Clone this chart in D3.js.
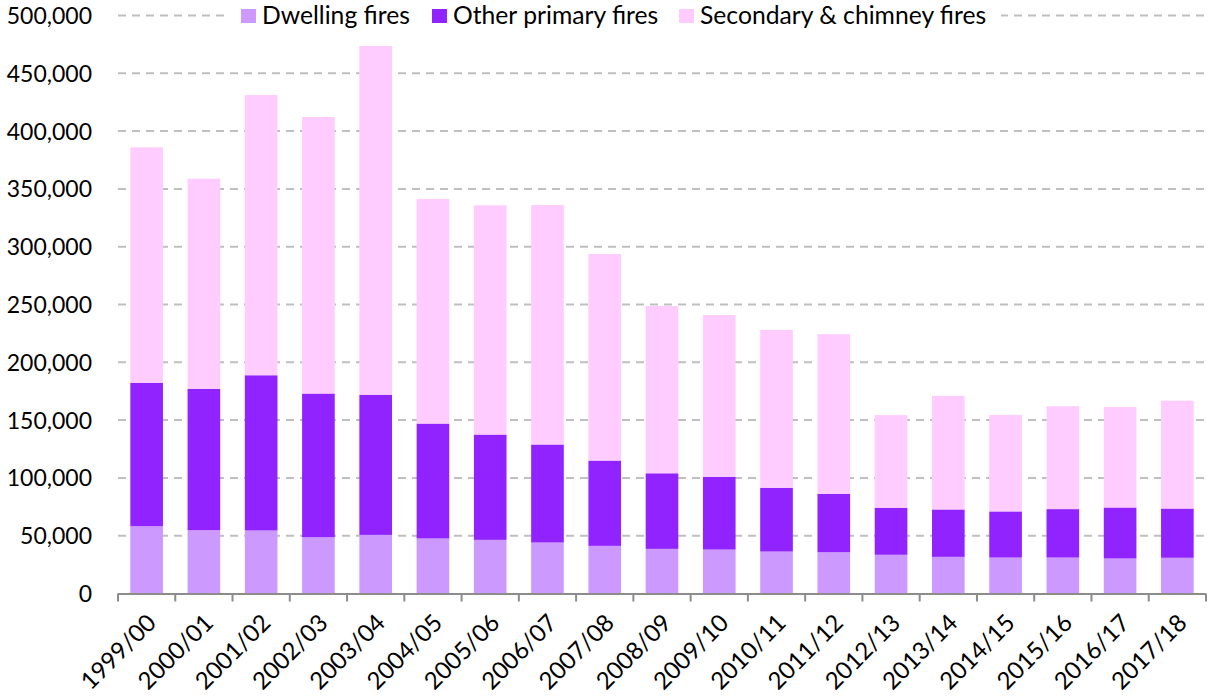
<!DOCTYPE html>
<html>
<head>
<meta charset="utf-8">
<script src="https://cdn.jsdelivr.net/npm/d3@7"></script>
<style>
  body { margin: 0; background: #fff; }
  text { font-family: Lato, "Open Sans", sans-serif; fill: #000; }
</style>
</head>
<body>
<div id="chart"></div>
<script>
var years = ["1999/00","2000/01","2001/02","2002/03","2003/04","2004/05","2005/06","2006/07","2007/08","2008/09",
             "2009/10","2010/11","2011/12","2012/13","2013/14","2014/15","2015/16","2016/17","2017/18"];
var dwelling  = [58200, 54800, 54500, 48700, 50700, 47600, 46400, 44100, 41200, 38600,
                 38000, 36300, 35700, 33500, 31700, 31100, 31100, 30300, 30900];
var otherPrimary = [124100, 122200, 134300, 124300, 121300, 99400, 91100, 84800, 73800, 65400,
                    63000, 55200, 50400, 40700, 41000, 39900, 41900, 44100, 42600];
var secondary = [203700, 181800, 242400, 239200, 301600, 194300, 198300, 207200, 178700, 144700,
                 139900, 136500, 138200, 80100, 98300, 83500, 89000, 86900, 93300];
var seriesNames = ["Dwelling fires", "Other primary fires", "Secondary & chimney fires"];
var yTicks = [0, 50000, 100000, 150000, 200000, 250000, 300000, 350000, 400000, 450000, 500000];

var w = 1209, h = 697;
var mLeft = 118, mRight = 1206, mTop = 15.5, mBottom = 593.5;
var colors = ["#CC99FF", "#9023FF", "#FFCCFF"];

var svg = d3.select("#chart").append("svg")
    .attr("width", w).attr("height", h);

var rows = years.map(function(y, i) {
  return { year: y, d: dwelling[i], o: otherPrimary[i], s: secondary[i] };
});
var stack = d3.stack().keys(["d", "o", "s"])(rows);

var x = d3.scaleBand().domain(years).range([mLeft, mRight]).paddingInner(0.43).paddingOuter(0.215);
var y = d3.scaleLinear().domain([0, 500000]).range([mBottom, mTop]);

// gridlines
svg.append("g").selectAll("line")
  .data(yTicks.slice(1))
  .enter().append("line")
  .attr("x1", mLeft).attr("x2", mRight + 1)
  .attr("y1", function(d) { return y(d); })
  .attr("y2", function(d) { return y(d); })
  .attr("stroke", "#BFBFBF").attr("stroke-width", 2)
  .attr("stroke-dasharray", "8,6");

// y labels
var yAxis = d3.axisLeft(y).tickValues(yTicks).tickSize(0).tickPadding(26)
  .tickFormat(d3.format(","));
var ya = svg.append("g").attr("transform", "translate(" + mLeft + ",0)").call(yAxis);
ya.select(".domain").remove();
ya.selectAll("text").style("font-size", "23px").style("font-family", null).attr("dy", "0.35em");

// bars
svg.append("g").selectAll("g")
  .data(stack).enter().append("g")
  .attr("fill", function(d, i) { return colors[i]; })
  .selectAll("rect")
  .data(function(d) { return d; })
  .enter().append("rect")
  .attr("x", function(d) { return x(d.data.year); })
  .attr("width", x.bandwidth())
  .attr("y", function(d) { return y(d[1]); })
  .attr("height", function(d) { return y(d[0]) - y(d[1]); });

// x axis
var step = x.step();
var xa = svg.append("g");
xa.append("line")
  .attr("x1", mLeft).attr("x2", mRight)
  .attr("y1", mBottom + 0.5).attr("y2", mBottom + 0.5)
  .attr("stroke", "#8C8C8C").attr("stroke-width", 2);
xa.selectAll(".tk")
  .data(d3.range(years.length + 1))
  .enter().append("line")
  .attr("x1", function(i) { return mLeft + i * step; })
  .attr("x2", function(i) { return mLeft + i * step; })
  .attr("y1", mBottom).attr("y2", mBottom + 8)
  .attr("stroke", "#8C8C8C").attr("stroke-width", 2);
xa.selectAll("text")
  .data(years).enter().append("text")
  .attr("transform", function(d) {
    return "translate(" + (x(d) + x.bandwidth() / 2 - 1) + "," + (mBottom + 19) + ") rotate(-45)";
  })
  .attr("text-anchor", "end")
  .attr("dy", "0.7em")
  .style("font-size", "24px")
  .text(function(d) { return d; });

// legend
var legendX = [241, 432, 679];
var lg = svg.append("g");
lg.append("rect")
  .attr("x", 229).attr("y", 2).attr("width", 772).attr("height", 28)
  .attr("fill", "#fff");
var items = lg.selectAll("g").data(seriesNames).enter().append("g")
  .attr("transform", function(d, i) { return "translate(" + legendX[i] + ",0)"; });
items.append("rect")
  .attr("x", 0).attr("y", 9).attr("width", 15).attr("height", 14)
  .attr("fill", function(d, i) { return colors[i]; });
items.append("text")
  .attr("x", 21).attr("y", mTop).attr("dy", "0.35em")
  .style("font-size", "24.7px")
  .text(function(d) { return d; });
</script>
</body>
</html>
